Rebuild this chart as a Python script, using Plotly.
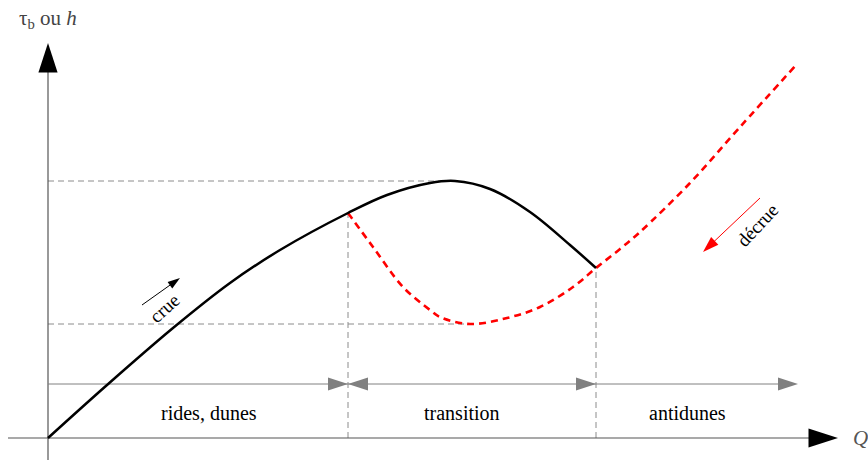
import plotly.graph_objects as go

# Schematic: bed shear stress (or depth) against discharge Q during a flood.
# Coordinates are in arbitrary units, origin at the axes crossing.

# rising limb (crue), solid black
rising_q = [0, 59, 125, 182, 232, 300, 339, 382, 407, 442, 482, 522, 548]
rising_tau = [0, 53, 110, 155, 188, 225, 243, 255, 257, 249, 226, 193, 170]

# falling limb (décrue), dashed red
falling_q = [300, 325, 355, 382, 392, 422, 459, 492, 525, 548, 572, 592, 642, 692, 749]
falling_tau = [225, 191, 151, 128, 121, 114, 120, 131, 151, 170, 189, 206, 255, 311, 374]

# reference levels
q_peak, tau_peak = 407, 257
q_min, tau_min = 422, 114
q_limits = [300, 548]
tau_limits = [225, 170]

# bed-form regimes
regime_tau = 54
regime_q = [0, 300, 548, 750]
regime_labels = ["rides, dunes", "transition", "antidunes"]
label_q = [161, 414, 639]
label_tau = 25

# axes extents
q_axis = [-40, 790]
tau_axis = [-22, 395]

# small direction arrows (tail -> tip)
crue_q, crue_tau = [94, 132], [133, 160]
decrue_q, decrue_tau = [712, 655], [240, 186]

SERIF = "Liberation Serif, Times New Roman, serif"
GUIDE = dict(color="#8c8c8c", width=1, dash="6px,4px")


def arrow_trace(x, y, line_color, head_color, width, sizes):
    # line through the points, filled "arrow" marker oriented along the path
    return go.Scatter(
        x=x, y=y, mode="lines+markers", hoverinfo="skip",
        line=dict(color=line_color, width=width),
        marker=dict(symbol="arrow", angleref="previous", size=sizes, opacity=1,
                    color=head_color, line=dict(width=0)),
    )


fig = go.Figure()

# dashed guides
fig.add_trace(go.Scatter(x=[0, q_peak], y=[tau_peak, tau_peak], mode="lines",
                         line=GUIDE, hoverinfo="skip"))
fig.add_trace(go.Scatter(x=[0, q_min], y=[tau_min, tau_min], mode="lines",
                         line=GUIDE, hoverinfo="skip"))
for q, t in zip(q_limits, tau_limits):
    fig.add_trace(go.Scatter(x=[q, q], y=[0, t], mode="lines",
                             line=GUIDE, hoverinfo="skip"))

# axes with black heads
fig.add_trace(arrow_trace(q_axis, [0, 0], "#555555", "black", 1.2, [0, 31]))
fig.add_trace(arrow_trace([0, 0], tau_axis, "#555555", "black", 1.2, [0, 31]))

# regime arrows: path 0 -> 300 -> 548 -> 300 -> 548 -> 750 gives all the heads
reg_x = [regime_q[0], regime_q[1], regime_q[2], regime_q[1], regime_q[2], regime_q[3]]
fig.add_trace(arrow_trace(reg_x, [regime_tau] * len(reg_x), "#808080", "#808080", 1,
                          [0, 21, 21, 21, 0, 21]))

# curves
fig.add_trace(go.Scatter(x=falling_q, y=falling_tau, mode="lines", hoverinfo="skip",
                         line=dict(color="#ff0000", width=2.6, dash="7px,5px", shape="spline")))
fig.add_trace(go.Scatter(x=rising_q, y=rising_tau, mode="lines", hoverinfo="skip",
                         line=dict(color="black", width=2.5, shape="spline")))

# crue / décrue arrows
fig.add_trace(arrow_trace(crue_q, crue_tau, "black", "black", 1, [0, 13]))
fig.add_trace(arrow_trace(decrue_q, decrue_tau, "#ff0000", "#ff0000", 1, [0, 17]))

ann = []
for xq, lab in zip(label_q, regime_labels):
    ann.append(dict(x=xq, y=label_tau, text=lab, showarrow=False,
                    font=dict(family=SERIF, size=20, color="black")))

ann.append(dict(x=116, y=130, text="crue", textangle=-42, showarrow=False,
                font=dict(family=SERIF, size=19, color="black")))
ann.append(dict(x=709, y=213, text="décrue", textangle=-47, showarrow=False,
                font=dict(family=SERIF, size=19, color="black")))

# axis labels
ann.append(dict(x=0, y=419, text="τ<sub>b</sub> ou <i>h</i>", showarrow=False,
                font=dict(family=SERIF, size=21, color="#444444")))
ann.append(dict(x=812, y=0, text="<i>Q</i>", showarrow=False,
                font=dict(family=SERIF, size=21, color="#555555")))

for a in ann:
    a["xref"] = "x"
    a["yref"] = "y"

fig.update_layout(
    width=868, height=460,
    margin=dict(l=0, r=0, t=0, b=0),
    plot_bgcolor="white", paper_bgcolor="white",
    showlegend=False,
    annotations=ann,
    xaxis=dict(range=[-48, 820], visible=False, fixedrange=True),
    yaxis=dict(range=[-22, 438], visible=False, fixedrange=True),
)

# drop the default 8px body margin so the figure fills the window exactly
fig.write_html("out.html", config={"displayModeBar": False},
               post_script="document.body.style.margin='0';document.body.style.overflow='hidden';")
